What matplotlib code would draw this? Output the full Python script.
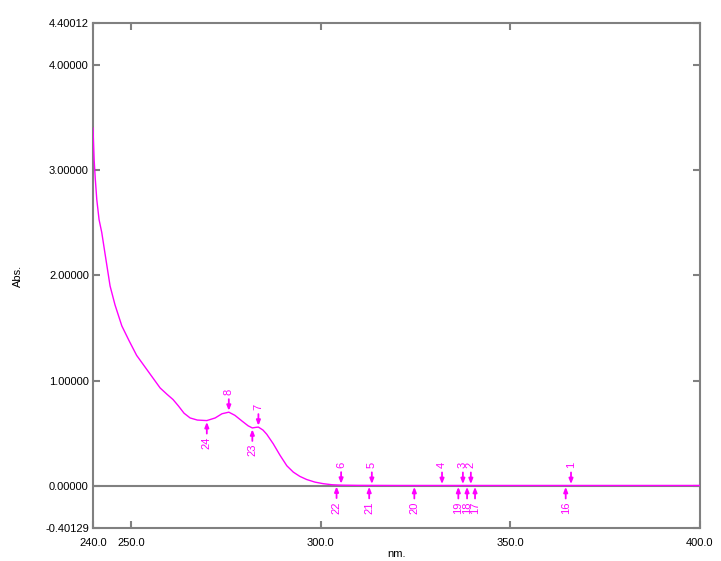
import numpy as np
import matplotlib
matplotlib.use("Agg")
import matplotlib.pyplot as plt

plt.rcParams['font.family'] = ['Liberation Sans', 'DejaVu Sans']

# spectrum
wl = [240.0, 240.3, 240.6, 241.0, 241.6, 242.3, 243.2, 244.5, 245.8, 247.6,
      249.5, 251.5, 253.5, 255.5, 257.7, 259.5, 261.1, 262.5, 264.0, 265.6,
      267.5, 270.0, 272.2, 274.0, 275.8, 277.4, 279.3, 280.9, 282.0, 283.0,
      283.6, 284.8, 285.8, 287.5, 289.3, 291.1, 292.8, 294.5, 296.3, 298.5,
      300.7, 303.0, 305.4, 310.0, 320.0, 340.0, 360.0, 380.0, 400.0]
absorb = [3.40, 3.10, 2.92, 2.72, 2.53, 2.41, 2.20, 1.90, 1.72, 1.52,
          1.38, 1.24, 1.14, 1.04, 0.93, 0.87, 0.82, 0.76, 0.69, 0.645,
          0.625, 0.62, 0.645, 0.685, 0.70, 0.67, 0.615, 0.57, 0.55, 0.556,
          0.558, 0.53, 0.49, 0.40, 0.29, 0.19, 0.13, 0.09, 0.06, 0.035,
          0.02, 0.01, 0.006, 0.004, 0.003, 0.003, 0.003, 0.003, 0.003]

# peaks (label above) and valleys (label below)
peak_labels = ["8", "7", "6", "5", "4", "3", "2", "1"]
peak_nm = [275.8, 283.6, 305.4, 313.5, 332.0, 337.5, 339.6, 366.0]
peak_abs = [0.70, 0.558, 0.006, 0.004, 0.003, 0.003, 0.003, 0.003]

valley_labels = ["24", "23", "22", "21", "20", "19", "18", "17", "16"]
valley_nm = [270.0, 282.0, 304.2, 312.8, 324.7, 336.3, 338.6, 340.7, 364.6]
valley_abs = [0.62, 0.55, 0.007, 0.004, 0.003, 0.003, 0.003, 0.003, 0.003]

xticks = [240.0, 250.0, 300.0, 350.0, 400.0]
yticks = [-0.40129, 0.0, 1.0, 2.0, 3.0, 4.0, 4.40012]

mag = "#FF00FF"
grey = "#808080"

fig = plt.figure(figsize=(7.21, 5.61), dpi=100)
ax = fig.add_axes([93/721, 1 - 528/561, 607/721, 505/561])

ax.plot(wl, absorb, color=mag, lw=1.0, zorder=3)
ax.axhline(0, color=grey, lw=1.5, zorder=2)

arrow = dict(arrowstyle="-|>,head_length=0.3,head_width=0.12", color=mag,
             lw=1.3, shrinkA=0, shrinkB=1)
for lab, x, y in zip(peak_labels, peak_nm, peak_abs):
    ax.annotate("", xy=(x, y), xytext=(0, 13), textcoords="offset pixels",
                arrowprops=arrow, zorder=4)
    ax.annotate(lab, xy=(x, y), xytext=(0, 17), textcoords="offset pixels",
                ha="center", va="bottom", rotation=90, color=mag, fontsize=8)
for lab, x, y in zip(valley_labels, valley_nm, valley_abs):
    ax.annotate("", xy=(x, y), xytext=(0, -13), textcoords="offset pixels",
                arrowprops=arrow, zorder=4)
    ax.annotate(lab, xy=(x, y), xytext=(0, -16), textcoords="offset pixels",
                ha="center", va="top", rotation=90, color=mag, fontsize=8)

ax.set_xlim(240, 400)
ax.set_ylim(-0.40129, 4.40012)
ax.set_xticks(xticks)
ax.set_xticklabels(["%.1f" % v for v in xticks])
ax.set_yticks(yticks)
ax.set_yticklabels(["%.5f" % v for v in yticks])

ax.tick_params(direction="in", length=5, width=1.5, color=grey,
               labelsize=8, top=True, right=True)
ax.tick_params(axis="x", pad=7)
ax.tick_params(axis="y", pad=3)
for s in ax.spines.values():
    s.set_color(grey)
    s.set_linewidth(1.5)

ax.set_xlabel("nm.", fontsize=8, labelpad=1)
ax.set_ylabel("Abs.", fontsize=8, labelpad=16)

fig.savefig("out.png", dpi=100)
